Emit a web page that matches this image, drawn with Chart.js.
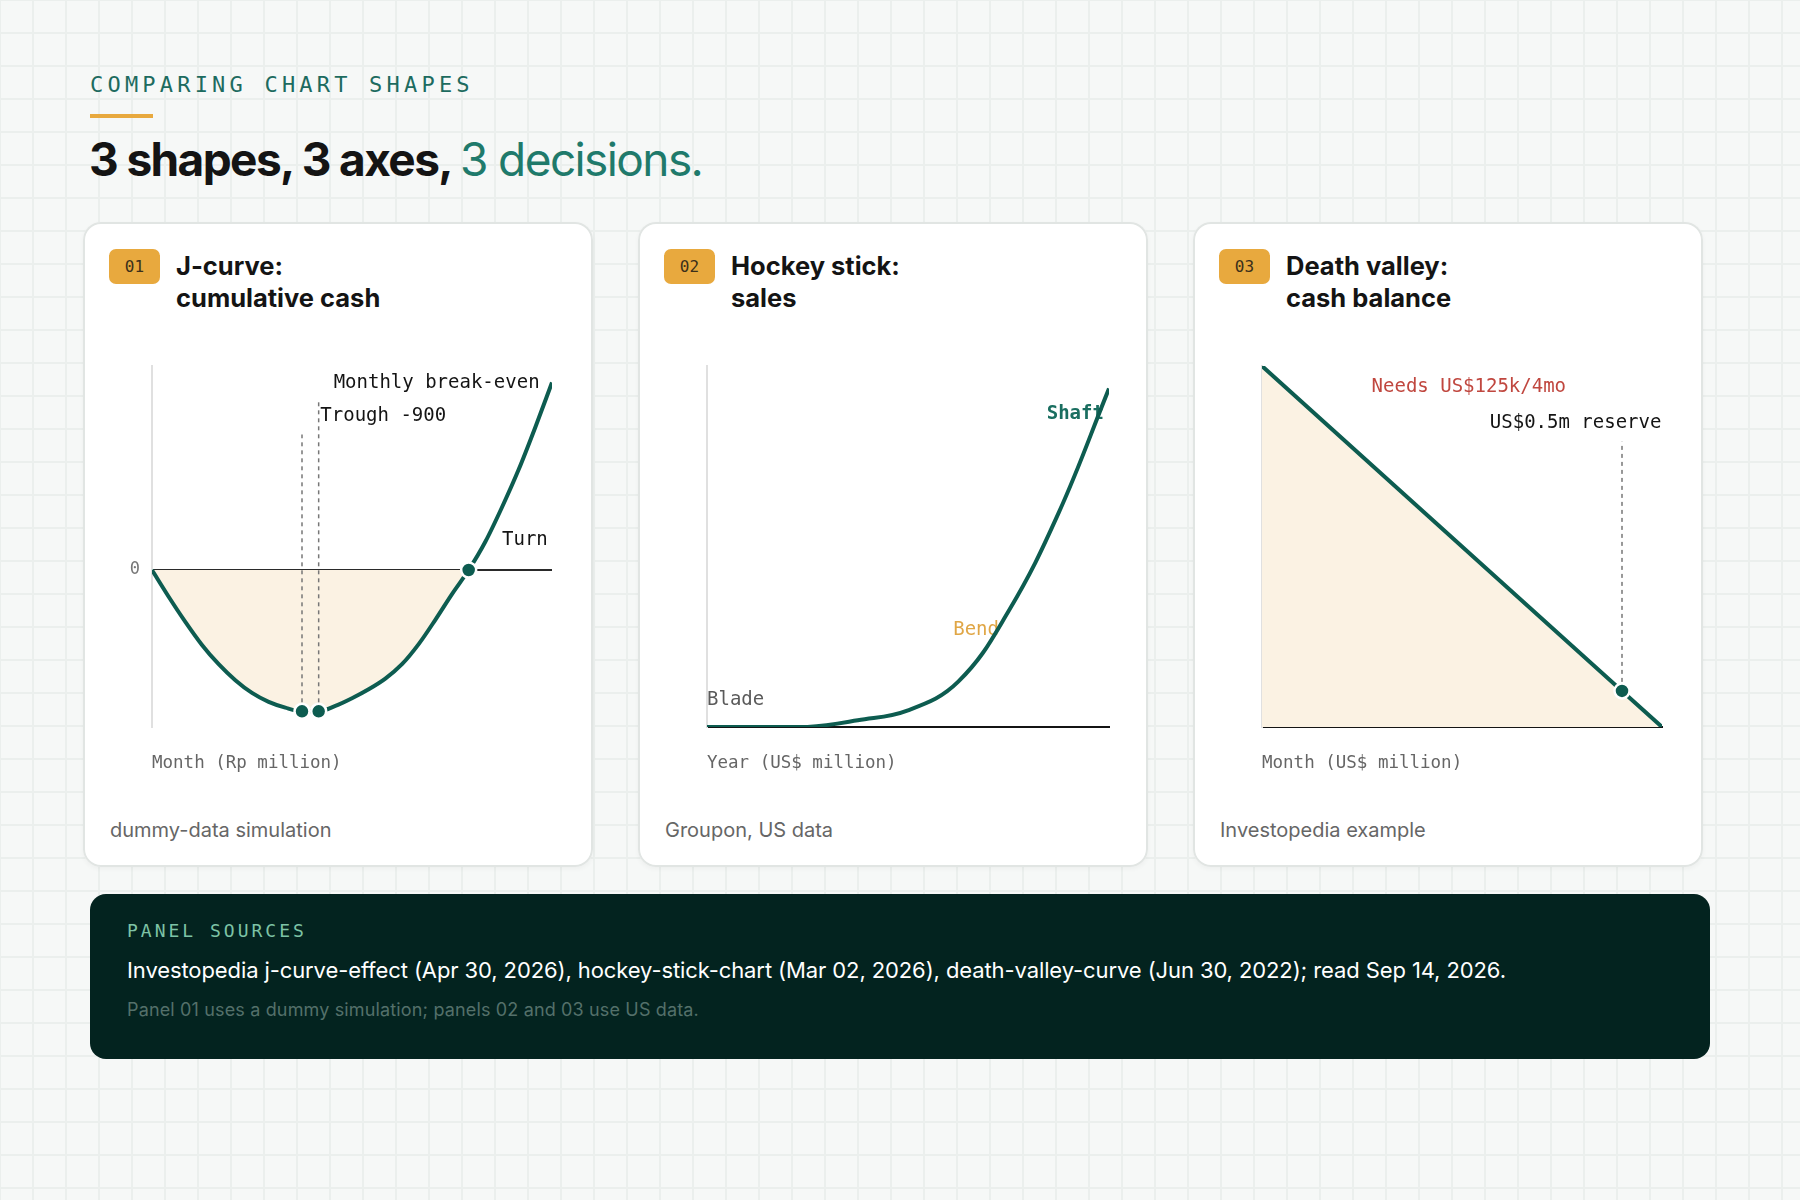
<!DOCTYPE html>
<html>
<head>
<meta charset="utf-8">
<script src="https://cdn.jsdelivr.net/npm/chart.js@4.4.1/dist/chart.umd.min.js"></script>
<style>
  html, body { margin: 0; padding: 0; }
  body {
    width: 1800px; height: 1200px; position: relative; overflow: hidden;
    background-color: #f6f8f7;
    background-image:
      linear-gradient(#ebefed 2px, transparent 2px),
      linear-gradient(90deg, #ebefed 2px, transparent 2px);
    background-size: 33px 33px;
    background-position: -1px -1px;
    font-family: Inter, "Noto Sans", sans-serif;
  }
  .eyebrow {
    position: absolute; left: 90px; top: 72px;
    font: 22px/26px "DejaVu Sans Mono", monospace;
    letter-spacing: 4.2px; color: #1d6b5f;
  }
  .rule { position: absolute; left: 90px; top: 114px; width: 63px; height: 4px; background: #e8a93e; }
  .headline {
    position: absolute; left: 89px; top: 131px; white-space: nowrap;
    font: 700 46px/56px Inter, sans-serif; letter-spacing: -1.6px; color: #141414;
  }
  .headline span { font-weight: 400; color: #1f7a6b; }
  .card {
    position: absolute; top: 222px; width: 510px; height: 645px;
    background: #fff; border-radius: 18px;
    box-shadow: inset 0 0 0 2px #e1e5e3, 0 2px 5px rgba(0,0,0,0.04);
  }
  .badge {
    position: absolute; left: 26px; top: 27px; width: 51px; height: 35px;
    border-radius: 7px; background: #e8a93e; color: #3b2f1a;
    font: 16px/35px "DejaVu Sans Mono", monospace; text-align: center;
  }
  .ctitle {
    position: absolute; left: 93px; top: 28px;
    font: 700 25.5px/32px Inter, sans-serif; letter-spacing: 0; color: #141414;
  }
  .note {
    position: absolute; left: 27px; top: 596px;
    font: 20px/24px Inter, sans-serif; letter-spacing: 0; color: #666;
  }
  .chartbox { position: absolute; left: 29px; top: 134px; width: 450px; height: 418px; }
  .footer {
    position: absolute; left: 90px; top: 894px; width: 1620px; height: 165px;
    border-radius: 16px; background: #03231f;
  }
  .flabel {
    position: absolute; left: 37px; top: 25px;
    font: 18px/24px "DejaVu Sans Mono", monospace; letter-spacing: 3px; color: #7dc3a6;
  }
  .ftext {
    position: absolute; left: 37px; top: 62px; white-space: nowrap;
    font: 22px/28px Inter, sans-serif; letter-spacing: -0.1px; color: #fff;
  }
  .fsub {
    position: absolute; left: 37px; top: 104px; white-space: nowrap;
    font: 18px/24px Inter, sans-serif; letter-spacing: 0.15px; color: #54706a;
  }
</style>
</head>
<body>

<div class="eyebrow">COMPARING CHART SHAPES</div>
<div class="rule"></div>
<div class="headline">3 shapes, 3 axes, <span>3 decisions.</span></div>

<div class="card" style="left:83px">
  <div class="badge">01</div>
  <div class="ctitle">J-curve:<br>cumulative cash</div>
  <div class="chartbox"><canvas id="jcurve"></canvas></div>
  <div class="note">dummy-data simulation</div>
</div>

<div class="card" style="left:638px">
  <div class="badge">02</div>
  <div class="ctitle">Hockey stick:<br>sales</div>
  <div class="chartbox"><canvas id="hockey"></canvas></div>
  <div class="note">Groupon, US data</div>
</div>

<div class="card" style="left:1193px">
  <div class="badge">03</div>
  <div class="ctitle">Death valley:<br>cash balance</div>
  <div class="chartbox"><canvas id="valley"></canvas></div>
  <div class="note">Investopedia example</div>
</div>

<div class="footer">
  <div class="flabel">PANEL SOURCES</div>
  <div class="ftext">Investopedia j-curve-effect (Apr 30, 2026), hockey-stick-chart (Mar 02, 2026), death-valley-curve (Jun 30, 2022); read Sep 14, 2026.</div>
  <div class="fsub">Panel 01 uses a dummy simulation; panels 02 and 03 use US data.</div>
</div>

<script>
// panel 01: J-curve, cumulative cash (Rp million) by month
const jMonths = [0, 1, 2, 3, 4, 5, 6, 7, 8, 9, 10, 11, 12, 13, 14, 15, 16, 17, 18, 19, 20, 21, 22, 23, 24];
const jCash = [0, -170, -330, -477, -600, -702, -783, -840, -877, -900, -900, -866, -817, -760, -692, -600, -472, -317, -153, 0, 180, 400, 640, 910, 1195];
const jMarkMonths = [9, 10, 19];
const jMarkCash = [-900, -900, 0];

// panel 02: hockey stick, sales (US$ million) by year
const hockeyYears = [0, 1, 2, 3, 4, 5, 6, 7, 8];
const hockeySales = [0, 0, 0, 30, 74, 201, 513, 950, 1500];

// panel 03: death valley, cash balance (US$ million) by month
const valleyMonths = [0, 36, 40];
const valleyCash = [5.0, 0.5, 0];
const valleyMarkMonths = [36];
const valleyMarkCash = [0.5];

const TEAL = '#0d5c50';
const CREAM = '#fbf2e3';
const MONO = '"DejaVu Sans Mono", monospace';

function toPoints(xs, ys) {
  return xs.map((x, i) => ({ x: x, y: ys[i] }));
}

// text notes and dashed guides, placed in data units through the chart's scales
const notesPlugin = {
  id: 'notes',
  beforeDatasetsDraw(chart, args, opts) {
    const { ctx, scales: { x, y } } = chart;
    (opts.labels || []).forEach(n => {
      ctx.save();
      ctx.font = (n.weight || 'normal') + ' 19px ' + MONO;
      ctx.fillStyle = n.color || '#141414';
      ctx.textAlign = n.align || 'left';
      ctx.textBaseline = 'middle';
      ctx.fillText(n.text, x.getPixelForValue(n.x), y.getPixelForValue(n.y));
      ctx.restore();
    });
  },
  afterDatasetsDraw(chart, args, opts) {
    const { ctx, scales: { x, y } } = chart;
    (opts.guides || []).forEach(g => {
      const px = x.getPixelForValue(g.x);
      ctx.save();
      ctx.strokeStyle = '#777';
      ctx.lineWidth = 1.5;
      ctx.setLineDash([4, 4]);
      ctx.beginPath();
      ctx.moveTo(px, y.getPixelForValue(g.from) - 9);
      ctx.lineTo(px, y.getPixelForValue(g.to));
      ctx.stroke();
      ctx.restore();
    });
  }
};

function makeOptions(cfg) {
  return {
    responsive: true,
    maintainAspectRatio: false,
    animation: false,
    layout: { padding: { top: 10, right: 8, bottom: 0, left: 0 } },
    plugins: {
      legend: { display: false },
      tooltip: { enabled: false },
      notes: { labels: cfg.labels, guides: cfg.guides }
    },
    scales: {
      x: {
        type: 'linear',
        min: cfg.xMin, max: cfg.xMax,
        grid: { display: false, drawTicks: false },
        ticks: { display: false },
        border: { display: cfg.baseline, color: '#141414', width: 2 },
        title: {
          display: true, text: cfg.xTitle, align: 'start',
          color: '#666', font: { family: MONO, size: 17.5 },
          padding: { top: 26, bottom: 0 }
        }
      },
      y: {
        type: 'linear',
        min: cfg.yMin, max: cfg.yMax,
        afterFit: s => { s.width = 40; s.paddingTop = 0; s.paddingBottom = 0; },
        afterBuildTicks: s => { s.ticks = [{ value: 0 }]; },
        grid: {
          display: cfg.zeroLine,
          drawTicks: false,
          lineWidth: 2,
          color: c => (c.tick && c.tick.value === 0 ? '#2a2a2a' : 'transparent')
        },
        ticks: {
          display: cfg.zeroLine, padding: 12,
          color: '#777', font: { family: MONO, size: 17 }
        },
        border: { display: true, color: '#e0e0e0', width: 2 }
      }
    }
  };
}

function lineSet(points, extra) {
  return Object.assign({
    data: points,
    order: 2,
    borderColor: TEAL,
    borderWidth: 4,
    pointRadius: 0,
    fill: false
  }, extra);
}

function markSet(points) {
  return {
    data: points,
    order: 1,
    showLine: false,
    pointRadius: 7.5,
    pointBackgroundColor: TEAL,
    pointBorderColor: '#fff',
    pointBorderWidth: 2.5
  };
}

new Chart(document.getElementById('jcurve'), {
  type: 'line',
  data: {
    datasets: [
      lineSet(toPoints(jMonths, jCash), {
        tension: 0.4,
        cubicInterpolationMode: 'monotone',
        fill: { target: 'origin', above: 'transparent', below: CREAM }
      }),
      markSet(toPoints(jMarkMonths, jMarkCash))
    ]
  },
  options: makeOptions({
    xMin: 0, xMax: 24, yMin: -1000, yMax: 1300,
    xTitle: 'Month (Rp million)', zeroLine: true, baseline: false,
    labels: [
      { text: 'Monthly break-even', x: 10.9, y: 1190 },
      { text: 'Trough -900', x: 10.1, y: 978 },
      { text: 'Turn', x: 21.0, y: 193 }
    ],
    guides: [
      { x: 9, from: -900, to: 863 },
      { x: 10, from: -900, to: 1093 }
    ]
  }),
  plugins: [notesPlugin]
});

new Chart(document.getElementById('hockey'), {
  type: 'line',
  data: {
    datasets: [
      lineSet(toPoints(hockeyYears, hockeySales), { tension: 0.4 })
    ]
  },
  options: makeOptions({
    xMin: 0, xMax: 8, yMin: 0, yMax: 1600,
    xTitle: 'Year (US$ million)', zeroLine: false, baseline: true,
    labels: [
      { text: 'Blade', x: 0, y: 120, color: '#5a5a5a' },
      { text: 'Bend', x: 4.9, y: 431, color: '#e0a645' },
      { text: 'Shaft', x: 6.76, y: 1387, color: '#1a6e60', weight: 'bold' }
    ],
    guides: []
  }),
  plugins: [notesPlugin]
});

new Chart(document.getElementById('valley'), {
  type: 'line',
  data: {
    datasets: [
      lineSet(toPoints(valleyMonths, valleyCash), {
        tension: 0,
        fill: { target: 'origin', above: CREAM }
      }),
      markSet(toPoints(valleyMarkMonths, valleyMarkCash))
    ]
  },
  options: makeOptions({
    xMin: 0, xMax: 40, yMin: 0, yMax: 5,
    xTitle: 'Month (US$ million)', zeroLine: false, baseline: true,
    labels: [
      { text: 'Needs US$125k/4mo', x: 10.96, y: 4.71, color: '#c0473f' },
      { text: 'US$0.5m reserve', x: 39.94, y: 4.21, align: 'right' }
    ],
    guides: [
      { x: 36, from: 0.5, to: 3.95 }
    ]
  }),
  plugins: [notesPlugin]
});
</script>
</body>
</html>
